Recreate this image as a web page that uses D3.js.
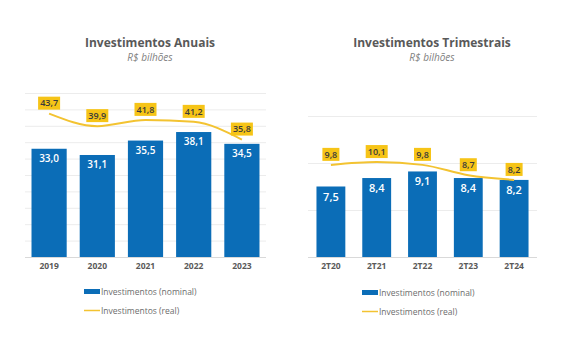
<!DOCTYPE html>
<html>
<head>
<meta charset="utf-8">
<script src="https://cdn.jsdelivr.net/npm/d3@7"></script>
<style>
  body { margin: 0; background: #fff; }
  svg { font-family: "Open Sans", sans-serif; }
</style>
</head>
<body>
<div id="viz"></div>
<script>
// data
let anos = ["2019", "2020", "2021", "2022", "2023"];
let anualNominal = [33.0, 31.1, 35.5, 38.1, 34.5];
let anualReal = [43.7, 39.9, 41.8, 41.2, 35.8];

let trimestres = ["2T20", "2T21", "2T22", "2T23", "2T24"];
let trimNominal = [7.5, 8.4, 9.1, 8.4, 8.2];
let trimReal = [9.8, 10.1, 9.8, 8.7, 8.2];

let legendLabels = ["Investimentos (nominal)", "Investimentos (real)"];

let w = 566;
let h = 340;
let blue = "#0b6db7";
let yellow = "#f3c331";
let boxYellow = "#f6c417";

let fmt = function(v){ return v.toFixed(1).replace(".", ","); };

let viz = d3.select("#viz")
  .append("svg")
    .attr("width", w)
    .attr("height", h);

function drawChart(cfg){
  let g = viz.append("g");

  let xScale = d3.scaleBand()
    .domain(cfg.cats)
    .range([cfg.x0, cfg.x1])
    .paddingInner(cfg.pad)
    .paddingOuter(cfg.pad / 2);

  let yScale = d3.scaleLinear()
    .domain([0, cfg.max])
    .range([cfg.y0, cfg.y1]);

  // gridlines
  g.selectAll(".grid").data(d3.range(0, cfg.max + 0.001, cfg.step)).enter()
    .append("line")
      .attr("x1", cfg.x0)
      .attr("x2", cfg.x1)
      .attr("y1", d => yScale(d) + 0.5)
      .attr("y2", d => yScale(d) + 0.5)
      .attr("stroke", d => d == 0 ? "#d9d9d9" : "#ececec")
      .attr("stroke-width", 1);

  // titles
  g.append("text")
    .text(cfg.title)
    .attr("x", cfg.tx)
    .attr("y", 47)
    .attr("text-anchor", "middle")
    .style("font-size", "12px")
    .style("font-weight", "bold")
    .attr("fill", "#595959");

  g.append("text")
    .text("R$ bilhões")
    .attr("x", cfg.tx)
    .attr("y", 61)
    .attr("text-anchor", "middle")
    .style("font-size", "10px")
    .style("font-style", "italic")
    .attr("fill", "#7f7f7f");

  // bars
  g.selectAll(".bar").data(cfg.nominal).enter()
    .append("rect")
      .attr("x", (d, i) => xScale(cfg.cats[i]))
      .attr("y", d => yScale(d))
      .attr("width", xScale.bandwidth())
      .attr("height", d => yScale(0) - yScale(d))
      .attr("fill", blue);

  g.selectAll(".barlabel").data(cfg.nominal).enter()
    .append("text")
      .text(d => fmt(d))
      .attr("x", (d, i) => xScale(cfg.cats[i]) + xScale.bandwidth() / 2)
      .attr("y", d => yScale(d) + cfg.labelDy)
      .attr("text-anchor", "middle")
      .style("font-size", cfg.labelSize)
      .style("font-weight", "600")
      .attr("fill", "white");

  // x axis labels
  let xAxis = d3.axisBottom(xScale).tickSize(0).tickPadding(6);
  let axisG = g.append("g")
    .attr("transform", "translate(0," + cfg.y0 + ")")
    .call(xAxis);
  axisG.select(".domain").remove();
  axisG.selectAll("text")
    .style("font-size", "8.5px")
    .style("font-weight", "bold")
    .style("font-family", "Open Sans, sans-serif")
    .attr("fill", "#595959");

  // real line
  let lineMaker = d3.line()
    .x((d, i) => xScale(cfg.cats[i]) + xScale.bandwidth() / 2)
    .y(d => yScale(d))
    .curve(d3.curveMonotoneX);

  g.append("path")
    .attr("d", lineMaker(cfg.real))
    .attr("fill", "none")
    .attr("stroke", yellow)
    .attr("stroke-width", 2);

  let boxes = g.selectAll(".realbox").data(cfg.real).enter()
    .append("g")
      .attr("transform", (d, i) => "translate(" + (xScale(cfg.cats[i]) + xScale.bandwidth() / 2) + "," + (yScale(d) - 10.5) + ")");

  boxes.append("rect")
    .attr("x", d => -(fmt(d).length * 5 + 2) / 2)
    .attr("y", -6.5)
    .attr("width", d => fmt(d).length * 5 + 2)
    .attr("height", 13)
    .attr("fill", boxYellow);

  boxes.append("text")
    .text(d => fmt(d))
    .attr("y", 3.2)
    .attr("text-anchor", "middle")
    .style("font-size", "9px")
    .style("font-weight", "600")
    .attr("fill", "#3a3a3a");

  // legend
  let lg = g.append("g").attr("transform", "translate(" + cfg.lx + ",0)");
  lg.append("rect")
    .attr("x", 0)
    .attr("y", cfg.ly - 3)
    .attr("width", 16)
    .attr("height", 5)
    .attr("fill", blue);
  lg.append("line")
    .attr("x1", 0)
    .attr("x2", 16)
    .attr("y1", cfg.ly + 18.5)
    .attr("y2", cfg.ly + 18.5)
    .attr("stroke", yellow)
    .attr("stroke-width", 1.5);
  lg.selectAll(".legtext").data(legendLabels).enter()
    .append("text")
      .text(d => d)
      .attr("x", 17)
      .attr("y", (d, i) => cfg.ly + 3 + i * 18.5)
      .style("font-size", "8.5px")
      .attr("fill", "#6d6d6d");
}

drawChart({
  title: "Investimentos Anuais",
  tx: 150,
  cats: anos,
  nominal: anualNominal,
  real: anualReal,
  x0: 25, x1: 266,
  y0: 257, y1: 93,
  max: 50, step: 5,
  pad: 0.27,
  labelDy: 13,
  labelSize: "10px",
  lx: 84, ly: 292
});

drawChart({
  title: "Investimentos Trimestrais",
  tx: 432,
  cats: trimestres,
  nominal: trimNominal,
  real: trimReal,
  x0: 308, x1: 537,
  y0: 257, y1: 116,
  max: 15, step: 5,
  pad: 0.37,
  labelDy: 14,
  labelSize: "11px",
  lx: 362, ly: 293
});
</script>
</body>
</html>
